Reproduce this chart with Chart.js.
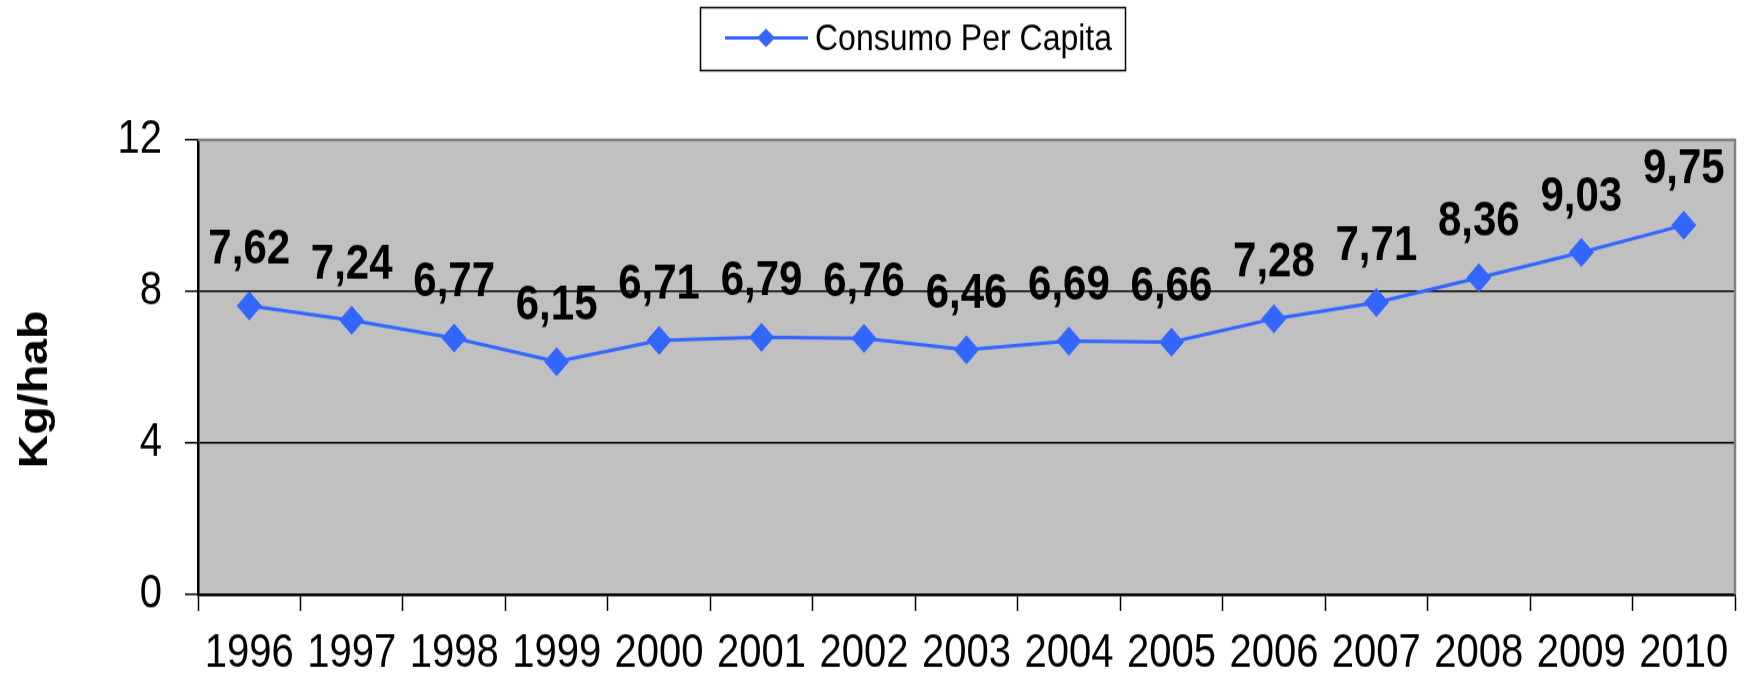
<!DOCTYPE html>
<html><head><meta charset="utf-8">
<script src="https://cdn.jsdelivr.net/npm/chart.js@4.4.0/dist/chart.umd.min.js"></script>
<style>
html,body{margin:0;padding:0;background:#fff;}
#outer{position:relative;width:1748px;height:675px;overflow:visible;}
#c{position:absolute;left:0;top:0;display:block;width:1748px;height:579px;transform:scaleY(1.1658);transform-origin:0 0;}
</style></head><body>
<div id="outer"><canvas id="c" width="1748" height="579"></canvas></div>
<script>
const categories = ['1996','1997','1998','1999','2000','2001','2002','2003','2004','2005','2006','2007','2008','2009','2010'];
const seriesName = 'Consumo Per Capita';
const consumoPerCapita = [7.62, 7.24, 6.77, 6.15, 6.71, 6.79, 6.76, 6.46, 6.69, 6.66, 7.28, 7.71, 8.36, 9.03, 9.75];
const yMin = 0, yMax = 12, yStep = 4;
const yTitle = 'Kg/hab';

const FONT = "'Liberation Sans', Arial, Helvetica, sans-serif";
const BLUE = '#3366ff';

const decor = {
  id: 'decor',
  beforeDraw(chart) {
    const {ctx, chartArea: a} = chart;
    ctx.save();
    ctx.fillStyle = '#c0c0c0';
    ctx.fillRect(a.left, a.top, a.right - a.left, a.bottom - a.top);
    ctx.restore();
  },
  afterDatasetsDraw(chart) {
    const {ctx} = chart;
    const meta = chart.getDatasetMeta(0);
    const vals = chart.data.datasets[0].data;
    ctx.save();
    ctx.font = 'bold 42px ' + FONT;
    ctx.fillStyle = '#000';
    ctx.textAlign = 'center';
    ctx.textBaseline = 'alphabetic';
    meta.data.forEach((pt, i) => {
      ctx.fillText(vals[i].toFixed(2).replace('.', ','), pt.x, pt.y - 36);
    });
    ctx.restore();
  },
  afterDraw(chart) {
    const {ctx, chartArea: a} = chart;
    ctx.save();
    ctx.strokeStyle = '#808080';
    ctx.lineWidth = 2.5;
    ctx.beginPath();
    ctx.moveTo(a.left, a.top);
    ctx.lineTo(a.right, a.top);
    ctx.lineTo(a.right, a.bottom);
    ctx.stroke();
    ctx.fillStyle = '#000';
    ctx.font = 'bold 40px ' + FONT;
    ctx.textAlign = 'center';
    ctx.textBaseline = 'middle';
    ctx.translate(36, 334);
    ctx.rotate(-Math.PI / 2);
    ctx.fillText(yTitle, 0, 0);
    ctx.restore();
    ctx.save();
    ctx.strokeStyle = '#000';
    ctx.lineWidth = 1.5;
    ctx.strokeRect(700.5, 6.5, 425, 54);
    ctx.strokeStyle = BLUE;
    ctx.lineWidth = 3;
    ctx.beginPath();
    ctx.moveTo(725, 32.6);
    ctx.lineTo(808, 32.6);
    ctx.stroke();
    ctx.fillStyle = BLUE;
    ctx.beginPath();
    ctx.moveTo(766, 32.6 - 8);
    ctx.lineTo(775, 32.6);
    ctx.lineTo(766, 32.6 + 8);
    ctx.lineTo(757, 32.6);
    ctx.closePath();
    ctx.fill();
    ctx.fillStyle = '#000';
    ctx.font = '32px ' + FONT;
    ctx.textAlign = 'left';
    ctx.textBaseline = 'middle';
    ctx.fillText(seriesName, 815, 34);
    ctx.restore();
  }
};

Chart.defaults.font.family = FONT;
Chart.defaults.color = '#000';

new Chart(document.getElementById('c'), {
  type: 'line',
  data: {
    labels: categories,
    datasets: [{
      label: seriesName,
      data: consumoPerCapita,
      borderColor: BLUE,
      backgroundColor: BLUE,
      borderWidth: 3,
      pointStyle: 'rectRot',
      pointRadius: 12,
      pointBorderWidth: 1,
      pointBackgroundColor: BLUE,
      pointBorderColor: BLUE,
      tension: 0,
      clip: false
    }]
  },
  options: {
    responsive: false,
    animation: false,
    devicePixelRatio: 1,
    layout: {padding: {top: 120, right: 12, left: 0, bottom: 0}},
    plugins: {legend: {display: false}, tooltip: {enabled: false}},
    scales: {
      x: {
        type: 'category',
        offset: true,
        grid: {offset: true, drawOnChartArea: false, drawTicks: true, tickLength: 14, tickColor: '#000', tickWidth: 1.5},
        border: {display: true, color: '#000', width: 2.5},
        ticks: {font: {size: 40}, color: '#000', padding: 13, maxRotation: 0, autoSkip: false},
        afterFit(scale) { scale.height = 69; }
      },
      y: {
        min: yMin, max: yMax,
        grid: {
          color: (c) => c.tick && c.tick.value === yMax ? '#808080' : '#000',
          lineWidth: 1.5,
          drawTicks: true, tickLength: 13, tickColor: '#000', tickWidth: 1.5
        },
        border: {display: true, color: '#000', width: 2.5},
        ticks: {stepSize: yStep, font: {size: 40}, color: '#000', padding: 23},
        afterFit(scale) { scale.width = 198; }
      }
    }
  },
  plugins: [decor]
});
</script>
</body></html>
